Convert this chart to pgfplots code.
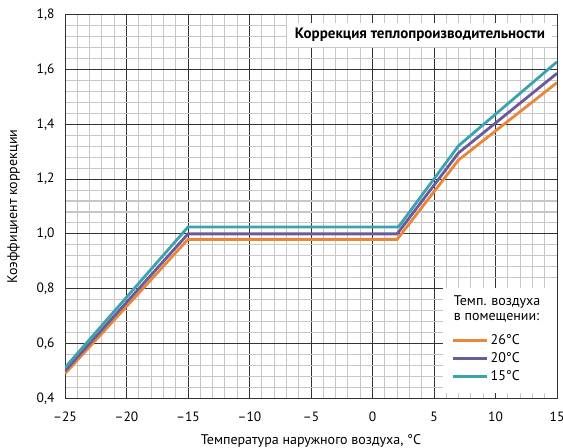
\documentclass[border=0pt]{standalone}
\usepackage{pgfplots}
\pgfplotsset{compat=1.18}
\usepackage{fontspec}
\setmainfont{PT Sans}
\definecolor{corange}{HTML}{E8863A}
\definecolor{cpurple}{HTML}{6A5A9C}
\definecolor{cteal}{HTML}{3BA3B0}
\begin{document}
\begin{tikzpicture}
\begin{axis}[
  scale only axis,
  width=492pt, height=383.6pt,
  xmin=-25, xmax=15, ymin=0.4, ymax=1.8,
  xtick={-25,-20,-15,-10,-5,0,5,10,15},
  xticklabels={–25,–20,–15,–10,–5,0,5,10,15},
  ytick={0.4,0.6,0.8,1.0,1.2,1.4,1.6,1.8},
  yticklabels={{0,4},{0,6},{0,8},{1,0},{1,2},{1,4},{1,6},{1,8}},
  minor x tick num=4,
  minor y tick num=4,
  grid=both,
  major grid style={black!80, line width=0.8pt},
  minor grid style={black!22, line width=1.1pt},
  axis line style={black!80, line width=0.8pt},
  major tick length=0pt, minor tick length=0pt,
  tick label style={font=\fontsize{13.5}{15}\selectfont},
  yticklabel style={xshift=-7pt},
  xticklabel style={yshift=-10pt},
  xlabel={Температура наружного воздуха, °C},
  ylabel={Коэффициент коррекции},
  label style={font=\fontsize{14}{16}\selectfont},
  xlabel style={yshift=-6pt},
  ylabel style={yshift=10pt},
  legend cell align=left,
  legend style={at={(0.786,0.171)}, anchor=north west, draw=none, fill=none,
    font=\fontsize{14}{16}\selectfont, inner sep=0pt, row sep=2.4pt,
    /tikz/every even column/.style={column sep=7pt}},
  legend image code/.code={\draw[#1, line width=2.8pt] (0pt,0pt) -- (34pt,0pt);},
]
\addplot[corange, line width=2.8pt] coordinates {(-25,0.49) (-15,0.98) (2,0.98) (7,1.27) (15,1.552)};
\addlegendentry{26°C}
\addplot[cpurple, line width=2.8pt] coordinates {(-25,0.50) (-15,1.00) (2,1.00) (7,1.296) (15,1.586)};
\addlegendentry{20°C}
\addplot[cteal, line width=2.8pt] coordinates {(-25,0.512) (-15,1.025) (2.1,1.025) (7,1.322) (15,1.628)};
\addlegendentry{15°C}
\fill[white] (axis cs:5.7,0.42) rectangle (axis cs:15,0.803);
\node[fill=white, minimum width=265pt, minimum height=24pt, inner sep=0pt,
  font=\fontsize{15}{17}\selectfont\bfseries] at (axis cs:3.86,1.726) {Коррекция теплопроизводительности};
\node[anchor=north west, align=left, inner sep=0pt, font=\fontsize{14}{15.5}\selectfont]
  at (axis description cs:0.790,0.268) {Темп. воздуха\\в помещении:};
\coordinate (ll) at (rel axis cs:0,0);
\coordinate (ur) at (rel axis cs:1,1);
\end{axis}
\pgfresetboundingbox
\path ([xshift=-65pt,yshift=-49.7pt]ll) rectangle ([xshift=6pt,yshift=14.7pt]ur);
\end{tikzpicture}
\end{document}
